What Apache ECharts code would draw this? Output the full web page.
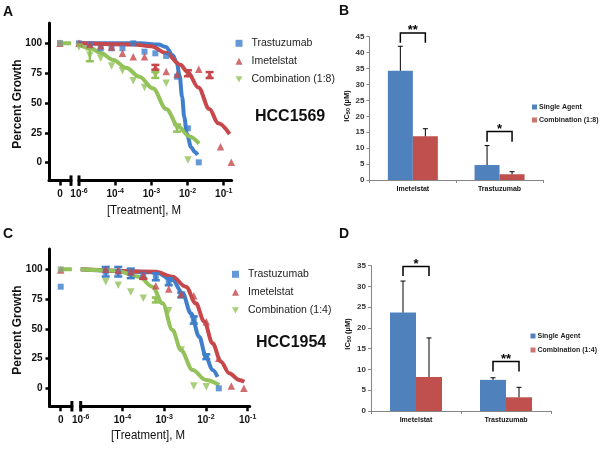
<!DOCTYPE html>
<html><head><meta charset="utf-8">
<script src="https://cdn.jsdelivr.net/npm/echarts@6/dist/echarts.min.js"></script>
<style>html,body{margin:0;padding:0;background:#fff}#c{width:601px;height:449px}</style>
</head><body><div id="c"></div>
<script>
// ---------- DATA ----------
// Panel A (HCC1569): x = log10 dose position on the decade axis
const doseA   = [-5.0,-4.7,-4.4,-4.1,-3.8,-3.5,-3.19,-2.89,-2.59,-2.29,-1.99,-1.69,-1.39,-1.09,-0.79];
const trastA  = [100,99,95.8,95.8,95.8,100,93,91.6,89.4,72,28.8,0.3,null,null,null];
const imetA   = [100,99,98,97,91.6,88.8,88.8,79.9,76.3,74,74.9,78.2,73.4,13.4,0.3];
const combA   = [97,90,87.4,81,77,68.7,63,73.5,66.5,29,2.3,null,null,null,null];
const imetAErr = [0,0,0,0,0,0,0,2,0,0,2.5,0,2.5,0,0];
const combAErr = [0,5,0,0,0,0,0,2.5,0,3,0,0,0,0,0];
const zeroA   = [100,100,100];             // Trastuzumab, Imetelstat, Combination at dose 0
const trastFitA = [[-5,100],[-3.3,100],[-2.8,99],[-2.6,97],[-2.41,90],[-2.3,84],[-2.22,73],[-2.15,55],[-2.09,38],[-2.02,24],[-1.9,13],[-1.8,9],[-1.72,6.5]];
const imetFitA  = [[-5,100],[-3.5,99],[-3.0,97.5],[-2.6,92],[-2.2,82],[-2.0,76],[-1.7,63],[-1.4,45],[-1.15,33],[-0.84,24]];
const combFitA  = [[-5,98.6],[-4.67,95.8],[-4.4,91.8],[-4.05,86],[-3.7,79.5],[-3.33,72],[-2.96,62.3],[-2.59,45],[-2.25,30],[-1.95,22],[-1.68,16]];
const combFitA0 = [[0,100],[1,100]];

// Panel C (HCC1954)
const doseC   = [-4.4,-4.1,-3.8,-3.5,-3.2,-2.89,-2.59,-2.29,-1.99,-1.69,-1.39,-1.09];
const trastC  = [98,98,96.6,95.2,93.8,89.6,78.4,57.4,26.6,0,null,null];
const trastCErr = [4,4,4,3,3,3,2,3,2,0,0,0];
const imetC   = [100,99,98,95,86.3,83.5,79.3,77.9,56,25.2,1.9,0];
const imetCErr = [0,0,0,3,0,0,0,0,0,0,0,0];
const combC   = [89.6,86.7,81,75.6,74.2,65.2,32.2,1.9,1.3,null,null,null];
const combCErr = [0,0,0,0,2,0,0,0,0,0,0,0];
const zeroC   = [85.4,99.4,100];
const trastFitC = [[-5,100],[-3.2,97.5],[-2.8,91],[-2.56,80],[-2.36,63],[-2.16,43.4],[-2.0,26.6],[-1.84,15.4],[-1.72,9.7]];
const imetFitC  = [[-5,100],[-3.2,98],[-2.8,93.8],[-2.48,85.4],[-2.24,71.4],[-2.04,56],[-1.84,37.8],[-1.64,22.4],[-1.44,12.6],[-1.2,7],[-1.08,5.5]];
const combFitC  = [[-5,100],[-4.16,98.8],[-3.6,93.8],[-3.28,85.4],[-3.04,71.4],[-2.8,49],[-2.6,32.2],[-2.32,15.4],[-2.0,7],[-1.68,2.8]];
const combFitC0 = [[0,100],[1,100]];

// Tick labels
const yTicks = [0,25,50,75,100];
const xTickPos = [-5,-4,-3,-2,-1];
const xTickExp = ['-6','-4','-3','-2','-1'];

// Panels B and D (IC50 bars)
const barCats = ['Imetelstat','Trastuzumab'];
const singleB = [34.3,4.7], singleBErr = [7.7,6.1];
const combB   = [13.7,1.8], combBErr   = [2.4,0.8];
const singleD = [23.7,7.5], singleDErr = [7.6,0.5];
const combD   = [8.2,3.3],  combDErr   = [9.4,2.4];
const sigTopB = [46.2,15.2], sigLegB = [43.1,12.0], sigLabB = ['**','*'];
const sigTopD = [34.8,11.9], sigLegD = [32.5,9.5],  sigLabD = ['*','**'];

// ---------- STYLE ----------
const FS = "'Liberation Sans',Arial,sans-serif";
const BLUE='#3f7fcb', RED='#c7474b', GREEN='#94c25a';
const XBLUE='#4f81bd', XRED='#c0504d';
const INV = 'path://M0,0L10,0L5,9Z';

const G = {
  a0:{left:49,top:23,width:22,height:157.6},
  a1:{left:79,top:23,width:152.7,height:157.6},
  b:{left:369.5,top:36.7,width:173.4,height:143.3},
  c0:{left:49.5,top:249.1,width:22.4,height:157.1},
  c1:{left:80.7,top:249.1,width:169,height:157.1},
  d:{left:371,top:265.7,width:180,height:145.3}
};

function pts(dose, vals){ const r=[]; dose.forEach((d,i)=>{ if(vals[i]!=null) r.push([d,vals[i]]); }); return r; }
function errPts(dose, vals, errs){ const r=[]; dose.forEach((d,i)=>{ if(vals[i]!=null && errs[i]>0) r.push([d,vals[i],errs[i]]); }); return r; }
function errRender(color){ return function(params, api){
  const x=api.value(0), y=api.value(1), e=api.value(2);
  const t=api.coord([x,y+e]), b=api.coord([x,y-e]); const cap=4, st={stroke:color,lineWidth:2.5};
  return {type:'group',children:[
    {type:'line',shape:{x1:t[0],y1:t[1],x2:b[0],y2:b[1]},style:st},
    {type:'line',shape:{x1:t[0]-cap,y1:t[1],x2:t[0]+cap,y2:t[1]},style:st},
    {type:'line',shape:{x1:b[0]-cap,y1:b[1],x2:b[0]+cap,y2:b[1]},style:st}]};
};}
function barErrRender(side, bw){ return function(params, api){
  const c=api.value(0), v=api.value(1), e=api.value(2);
  const p0=api.coord([c,v]), p1=api.coord([c,v+e]); const x=p0[0]+side*bw/2;
  const st={stroke:'#000',lineWidth:1};
  return {type:'group',children:[
    {type:'line',shape:{x1:x,y1:p0[1],x2:x,y2:p1[1]},style:st},
    {type:'line',shape:{x1:x-2.5,y1:p1[1],x2:x+2.5,y2:p1[1]},style:st}]};
};}
function bracketRender(labels, bw){ return function(params, api){
  const c=api.value(0), top=api.value(1), leg=api.value(2);
  const pt=api.coord([c,top]), pl=api.coord([c,leg]); const xl=pt[0]-bw/2, xr=pt[0]+bw/2;
  return {type:'group',children:[
    {type:'polyline',shape:{points:[[xl,pl[1]],[xl,pt[1]],[xr,pt[1]],[xr,pl[1]]]},style:{stroke:'#000',lineWidth:1.5,fill:null}},
    {type:'text',style:{text:labels[params.dataIndex],x:pt[0],y:pt[1]-2,align:'center',verticalAlign:'middle',font:"bold 13px "+FS,fill:'#000'}}]};
};}

const supRich = {
  b:{fontSize:10,fontWeight:'bold',fontFamily:FS,color:'#111',lineHeight:12,verticalAlign:'bottom'},
  s:{fontSize:7,fontWeight:'bold',fontFamily:FS,color:'#111',lineHeight:7,verticalAlign:'top'}
};
function zeroX(gi){ return {gridIndex:gi,type:'value',min:-1,max:1,
  axisLine:{onZero:false,lineStyle:{color:'#000',width:3}},
  axisTick:{customValues:[0],length:5,lineStyle:{color:'#000',width:2.5}},
  axisLabel:{customValues:[0],formatter:()=>'{b|0}',rich:supRich,margin:7},
  splitLine:{show:false}}; }
function logX(gi,max){ return {gridIndex:gi,type:'value',min:-5,max:max,
  axisLine:{onZero:false,lineStyle:{color:'#000',width:3}},
  axisTick:{customValues:[-4,-3,-2,-1],length:5,lineStyle:{color:'#000',width:2.5}},
  axisLabel:{customValues:xTickPos,formatter:(v)=>'{b|10}{s|'+xTickExp[xTickPos.indexOf(Math.round(v))]+'}',rich:supRich,margin:7},
  splitLine:{show:false}}; }
function pctY(gi,show){ return {gridIndex:gi,type:'value',min:-15,max:117,show:show,
  axisLine:{show:true,onZero:false,lineStyle:{color:'#000',width:3}},
  axisTick:{customValues:yTicks,length:4,lineStyle:{color:'#000',width:2.5}},
  axisLabel:{customValues:yTicks,fontFamily:FS,fontWeight:'bold',fontSize:10,color:'#111',margin:7},
  splitLine:{show:false}}; }
function catX(gi){ return {gridIndex:gi,type:'category',data:barCats,
  axisLine:{onZero:false,lineStyle:{color:'#868686',width:1}},
  axisTick:{show:true,length:3,lineStyle:{color:'#868686'}},
  axisLabel:{fontFamily:FS,fontWeight:'bold',fontSize:7,color:'#111',margin:6}}; }
function icY(gi,max){ return {gridIndex:gi,type:'value',min:0,max:max,interval:5,
  axisLine:{show:true,onZero:false,lineStyle:{color:'#868686',width:1}},
  axisTick:{show:true,length:3,lineStyle:{color:'#868686'}},
  axisLabel:{fontFamily:FS,fontWeight:'bold',fontSize:8,color:'#333',margin:5},
  splitLine:{show:false}}; }

function scatter(name,x,y,data,sym,color,rot){ return {name:name,type:'scatter',xAxisIndex:x,yAxisIndex:y,data:data,symbol:sym,symbolSize:sym==='rect'?6:7.5,symbolRotate:rot||0,itemStyle:{color:color},z:5,clip:false}; }
function fit(name,x,y,data,color){ return {name:name,type:'line',xAxisIndex:x,yAxisIndex:y,data:data,smooth:0.35,smoothMonotone:'x',showSymbol:false,lineStyle:{color:color,width:4},z:3}; }
function errS(x,y,data,color){ return {type:'custom',xAxisIndex:x,yAxisIndex:y,data:data,renderItem:errRender(color),z:4,clip:false}; }

const series = [
  // Panel A
  fit('Trastuzumab fit',1,1,trastFitA,BLUE),
  fit('Imetelstat fit',1,1,imetFitA,RED),
  fit('Combination fit',1,1,combFitA,GREEN),
  fit('Combination fit',0,0,combFitA0,GREEN),
  scatter('Trastuzumab',1,1,pts(doseA,trastA),'rect',BLUE),
  scatter('Imetelstat',1,1,pts(doseA,imetA),'triangle',RED),
  scatter('Combination (1:8)',1,1,pts(doseA,combA),'triangle',GREEN,180),
  errS(1,1,errPts(doseA,imetA,imetAErr),RED),
  errS(1,1,errPts(doseA,combA,combAErr),GREEN),
  scatter('Trastuzumab',0,0,[[0,zeroA[0]]],'rect',BLUE),
  scatter('Imetelstat',0,0,[[0,zeroA[1]]],'triangle',RED),
  scatter('Combination (1:8)',0,0,[[0,zeroA[2]]],'rect','#8fa67e'),
  // Panel C
  fit('Trastuzumab fit',4,4,trastFitC,BLUE),
  fit('Imetelstat fit',4,4,imetFitC,RED),
  fit('Combination fit',4,4,combFitC,GREEN),
  fit('Combination fit',3,3,combFitC0,GREEN),
  scatter('Trastuzumab',4,4,pts(doseC,trastC),'rect',BLUE),
  scatter('Imetelstat',4,4,pts(doseC,imetC),'triangle',RED),
  scatter('Combination (1:4)',4,4,pts(doseC,combC),'triangle',GREEN,180),
  errS(4,4,errPts(doseC,trastC,trastCErr),BLUE),
  errS(4,4,errPts(doseC,imetC,imetCErr),RED),
  errS(4,4,errPts(doseC,combC,combCErr),GREEN),
  scatter('Trastuzumab',3,3,[[0,zeroC[0]]],'rect',BLUE),
  scatter('Imetelstat',3,3,[[0,zeroC[1]]],'triangle',RED),
  scatter('Combination (1:4)',3,3,[[0,zeroC[2]]],'rect','#8fa67e'),
  // Panel B
  {name:'Single Agent',type:'bar',xAxisIndex:2,yAxisIndex:2,data:singleB,barWidth:25,barGap:'0%',itemStyle:{color:XBLUE}},
  {name:'Combination (1:8)',type:'bar',xAxisIndex:2,yAxisIndex:2,data:combB,barWidth:25,barGap:'0%',itemStyle:{color:XRED}},
  {type:'custom',xAxisIndex:2,yAxisIndex:2,data:singleB.map((v,i)=>[i,v,singleBErr[i]]),renderItem:barErrRender(-1,25),z:4,clip:false},
  {type:'custom',xAxisIndex:2,yAxisIndex:2,data:combB.map((v,i)=>[i,v,combBErr[i]]),renderItem:barErrRender(1,25),z:4,clip:false},
  {type:'custom',xAxisIndex:2,yAxisIndex:2,data:sigTopB.map((v,i)=>[i,v,sigLegB[i]]),renderItem:bracketRender(sigLabB,25),z:5,clip:false},
  // Panel D
  {name:'Single Agent',type:'bar',xAxisIndex:5,yAxisIndex:5,data:singleD,barWidth:26,barGap:'0%',itemStyle:{color:XBLUE}},
  {name:'Combination (1:4)',type:'bar',xAxisIndex:5,yAxisIndex:5,data:combD,barWidth:26,barGap:'0%',itemStyle:{color:XRED}},
  {type:'custom',xAxisIndex:5,yAxisIndex:5,data:singleD.map((v,i)=>[i,v,singleDErr[i]]),renderItem:barErrRender(-1,26),z:4,clip:false},
  {type:'custom',xAxisIndex:5,yAxisIndex:5,data:combD.map((v,i)=>[i,v,combDErr[i]]),renderItem:barErrRender(1,26),z:4,clip:false},
  {type:'custom',xAxisIndex:5,yAxisIndex:5,data:sigTopD.map((v,i)=>[i,v,sigLegD[i]]),renderItem:bracketRender(sigLabD,26),z:5,clip:false}
];

const bigLegText = {fontFamily:FS,fontSize:10.5,color:'#222',lineHeight:14,padding:[0,0,0,4]};
const smallLegText = {fontFamily:FS,fontWeight:'bold',fontSize:7,color:'#222',lineHeight:10,padding:[0,0,0,-3]};

function txt(s,x,y,font,opts,sx){ return {type:'text',x:x,y:y,scaleX:sx||1,style:Object.assign({text:s,x:0,y:0,font:font,fill:'#111',align:'left',verticalAlign:'middle'},opts||{})}; }
function icLabel(x,y){ return {type:'text',x:x,y:y,rotation:Math.PI/2,style:{text:'{a|IC}{s|50}{a| (µM)}',x:0,y:0,align:'center',verticalAlign:'middle',
  rich:{a:{fontFamily:FS,fontWeight:'bold',fontSize:7.5,fill:'#111',lineHeight:9,verticalAlign:'top'},s:{fontFamily:FS,fontWeight:'bold',fontSize:5.5,fill:'#111',lineHeight:6,verticalAlign:'bottom'}}}}; }
function rot(s,x,y,font){ return {type:'text',x:x,y:y,rotation:Math.PI/2,style:{text:s,x:0,y:0,font:font,fill:'#111',align:'center',verticalAlign:'middle'}}; }
function brk(x,y){ return {type:'rect',shape:{x:x-1.5,y:y-5.2,width:3,height:10.5},style:{fill:'#000'}}; }

const option = {
  animation:false,
  textStyle:{fontFamily:FS},
  grid:[G.a0,G.a1,G.b,G.c0,G.c1,G.d].map(g=>Object.assign({containLabel:false},g)),
  xAxis:[zeroX(0),logX(1,-0.78),catX(2),zeroX(3),logX(4,-0.95),catX(5)],
  yAxis:[pctY(0,true),pctY(1,false),icY(2,45),pctY(3,true),pctY(4,false),icY(5,35)],
  legend:[
    {left:235.5,top:36.3,padding:0,orient:'vertical',itemWidth:7,itemHeight:7,itemGap:4,selectedMode:false,textStyle:bigLegText,
     data:[{name:'Trastuzumab',icon:'rect'},{name:'Imetelstat',icon:'triangle'},{name:'Combination (1:8)',icon:INV,itemStyle:{color:GREEN}}]},
    {left:232,top:267.3,padding:0,orient:'vertical',itemWidth:7,itemHeight:7,itemGap:4,selectedMode:false,textStyle:bigLegText,
     data:[{name:'Trastuzumab',icon:'rect'},{name:'Imetelstat',icon:'triangle'},{name:'Combination (1:4)',icon:INV,itemStyle:{color:GREEN}}]},
    {left:532,top:102,padding:0,orient:'vertical',itemWidth:5,itemHeight:5,itemGap:3,selectedMode:false,textStyle:smallLegText,
     data:[{name:'Single Agent',icon:'rect',itemStyle:{color:XBLUE}},{name:'Combination (1:8)',icon:'rect',itemStyle:{color:XRED}}]},
    {left:530.5,top:331,padding:0,orient:'vertical',itemWidth:5,itemHeight:5,itemGap:4,selectedMode:false,textStyle:smallLegText,
     data:[{name:'Single Agent',icon:'rect',itemStyle:{color:XBLUE}},{name:'Combination (1:4)',icon:'rect',itemStyle:{color:XRED}}]}
  ],
  graphic:[
    txt('A',3,12,"bold 14px "+FS),
    txt('B',339,11,"bold 14px "+FS),
    txt('C',3,234,"bold 14px "+FS),
    txt('D',339,234.5,"bold 14px "+FS),
    txt('HCC1569',255,117,"bold 16px "+FS),
    txt('HCC1954',256,343,"bold 16px "+FS),
    rot('Percent Growth',18,104,"bold 12px "+FS),
    rot('Percent Growth',18,330,"bold 12px "+FS),
    txt('[Treatment], M',144,210.5,"13.5px "+FS,{align:'center'},0.85),
    txt('[Treatment], M',148,435,"13.5px "+FS,{align:'center'},0.85),
    icLabel(347,106),
    icLabel(348,334),
    brk(G.a0.left+G.a0.width,G.a0.top+G.a0.height),
    brk(G.a1.left,G.a1.top+G.a1.height),
    brk(G.c0.left+G.c0.width,G.c0.top+G.c0.height),
    brk(G.c1.left,G.c1.top+G.c1.height)
  ],
  series:series
};
const chart = echarts.init(document.getElementById('c'));
chart.setOption(option);
</script></body></html>
